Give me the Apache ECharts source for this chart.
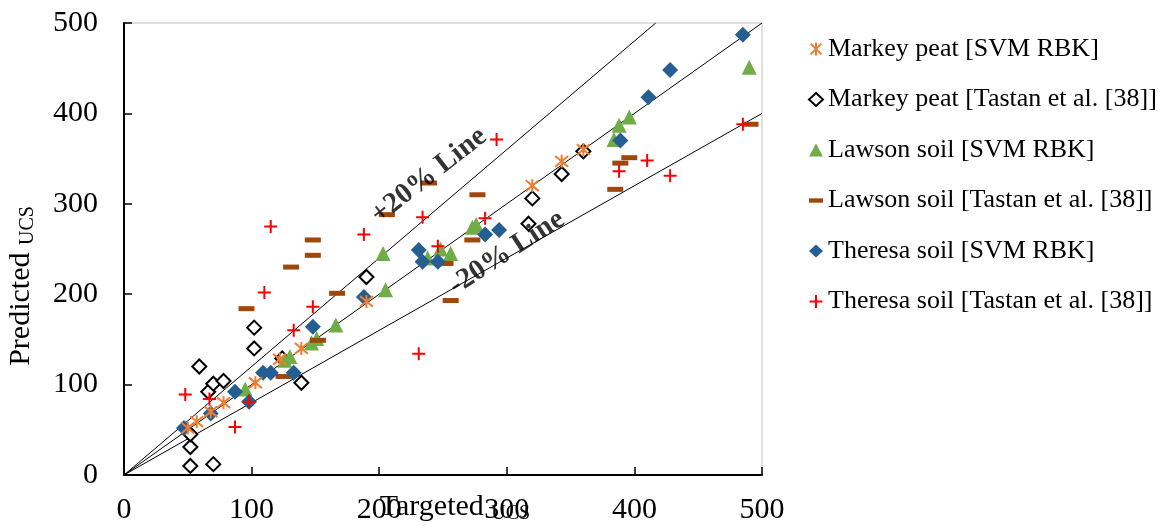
<!DOCTYPE html>
<html><head><meta charset="utf-8">
<script src="https://cdn.jsdelivr.net/npm/echarts@6/dist/echarts.min.js"></script>
<style>html,body{margin:0;padding:0;background:#fff}#c{width:1167px;height:529px}</style>
</head><body><div id="c"></div>
<script>
// ---- data ----
const xTicks = [0, 100, 200, 300, 400, 500];
const yTicks = [0, 100, 200, 300, 400, 500];
const seriesNames = [
  'Markey peat [SVM RBK]',
  'Markey peat [Tastan et al. [38]]',
  'Lawson soil [SVM RBK]',
  'Lawson soil [Tastan et al. [38]]',
  'Theresa soil [SVM RBK]',
  'Theresa soil [Tastan et al. [38]]'
];
const markeySVM = [[50,52],[57,59],[68,70],[78,80],[103,102],[122,128],[139,140],[190,192],[320,320],[343,347],[360,360]];
const markeyTastan = [[52,10],[52,31],[52,45],[59,120],[66,92],[70,101],[70,12],[78,104],[102,163],[102,140],[124,129],[139,102],[190,219],[317,278],[320,306],[343,333],[360,358]];
const lawsonSVM = [[95,95],[126,127],[130,131],[147,146],[151,151],[166,166],[203,245],[205,205],[238,240],[248,250],[256,245],[273,274],[276,277],[384,371],[388,387],[396,396],[490,451]];
const lawsonTastan = [[96,184],[125,109],[131,230],[148,260],[148,243],[152,149],[167,201],[206,288],[239,323],[252,234],[256,193],[273,260],[277,310],[385,316],[389,345],[396,351],[491,388]];
const theresaSVM = [[47,52],[68,68],[87,92],[98,81],[109,113],[115,113],[133,113],[148,164],[188,197],[231,249],[234,236],[246,236],[283,266],[294,271],[389,370],[411,418],[428,448],[485,487]];
const theresaTastan = [[48,89],[67,84],[87,53],[98,81],[110,202],[115,275],[133,160],[148,186],[188,266],[231,134],[234,285],[246,253],[283,284],[292,371],[388,336],[410,348],[428,331],[485,388]];
const linePlus20 = [[0,0],[416.7,500]];
const lineEqual = [[0,0],[500,500]];
const lineMinus20 = [[0,0],[500,400]];
const labelPlus20 = [[239,331,'+20% Line']];
const labelMinus20 = [[300,246,'-20% Line']];

// ---- chart ----
const FONT = '"Liberation Serif","Times New Roman",serif';
const asterisk = 'path://M0,0L10,10M10,0L0,10M5,-1L5,11';
const plus = 'path://M5,0L5,10M0,5L10,5';
const dash = 'path://M0,0L16,0L16,5L0,5Z';

function refLine(data){
  return {type:'line', data:data, symbol:'none', silent:true, z:1,
    lineStyle:{color:'#000', width:1}, legendHoverLink:false};
}
function textLabel(data, rot){
  return {type:'scatter', data:data, symbolSize:0, silent:true, z:5,
    label:{show:true, position:'inside', rotate:rot, formatter:p=>p.data[2],
      fontFamily:FONT, fontSize:29, fontWeight:'bold', color:'#000'}};
}

const chart = echarts.init(document.getElementById('c'));
chart.setOption({
  animation:false,
  grid:{left:124, right:405, top:23, bottom:54, show:true, borderColor:'#bfbfbf', borderWidth:1,
    outerBoundsMode:'none', containLabel:false},
  legend:{
    orient:'vertical', left:803, top:31, itemGap:24.5, itemWidth:14, itemHeight:13,
    data:[
      {name:seriesNames[0]},
      {name:seriesNames[1]},
      {name:seriesNames[2]},
      {name:seriesNames[3], icon:dash},
      {name:seriesNames[4]},
      {name:seriesNames[5]}
    ],
    textStyle:{fontFamily:FONT, fontSize:26, color:'#000', lineHeight:26}
  },
  xAxis:{
    type:'value', min:0, max:500, interval:100,
    name:'{m|Targeted }{s|UCS}', nameLocation:'middle', nameGap:15, nameMoveOverlap:false,
    nameTextStyle:{padding:[0,0,0,24], rich:{
      m:{fontFamily:FONT, fontSize:30, color:'#000'},
      s:{fontFamily:FONT, fontSize:20, color:'#000', padding:[14,0,0,0], verticalAlign:'bottom'}}},
    axisLine:{lineStyle:{color:'#000', width:2}},
    axisTick:{inside:true, length:8, lineStyle:{color:'#000', width:1.5}},
    axisLabel:{fontFamily:FONT, fontSize:30, color:'#000', margin:20,
      formatter:v=>xTicks.includes(v)?String(v):''},
    splitLine:{show:false}
  },
  yAxis:{
    type:'value', min:0, max:500, interval:100,
    name:'{m|Predicted }{s|UCS}', nameLocation:'middle', nameGap:86, nameMoveOverlap:false,
    nameTextStyle:{padding:[0,74,0,0], rich:{
      m:{fontFamily:FONT, fontSize:30, color:'#000'},
      s:{fontFamily:FONT, fontSize:20, color:'#000', padding:[14,0,0,0], verticalAlign:'bottom'}}},
    axisLine:{lineStyle:{color:'#000', width:2}},
    axisTick:{inside:true, length:8, lineStyle:{color:'#000', width:1.5}},
    axisLabel:{fontFamily:FONT, fontSize:30, color:'#000', margin:26,
      formatter:v=>yTicks.includes(v)?String(v):''},
    splitLine:{show:false}
  },
  series:[
    refLine(linePlus20), refLine(lineEqual), refLine(lineMinus20),
    {name:seriesNames[0], type:'scatter', data:markeySVM, symbol:asterisk, symbolSize:13, z:4,
      itemStyle:{color:'rgba(0,0,0,0)', borderColor:'#ED7D31', borderWidth:2, opacity:1}},
    {name:seriesNames[1], type:'scatter', data:markeyTastan, symbol:'diamond', symbolSize:14, z:3,
      itemStyle:{color:'#fff', borderColor:'#000', borderWidth:2, opacity:1}},
    {name:seriesNames[2], type:'scatter', data:lawsonSVM, symbol:'triangle', symbolSize:15, z:3,
      itemStyle:{color:'#70AD47', opacity:1}},
    {name:seriesNames[3], type:'scatter', data:lawsonTastan, symbol:dash, symbolSize:[16,5], z:3,
      itemStyle:{color:'#9E480E', opacity:1}},
    {name:seriesNames[4], type:'scatter', data:theresaSVM, symbol:'diamond', symbolSize:16, z:3,
      itemStyle:{color:'#255E91', opacity:1}},
    {name:seriesNames[5], type:'scatter', data:theresaTastan, symbol:plus, symbolSize:13, z:4,
      itemStyle:{color:'rgba(0,0,0,0)', borderColor:'#FF0000', borderWidth:2, opacity:1}},
    textLabel(labelPlus20, 38), textLabel(labelMinus20, 33)
  ]
});
</script></body></html>
